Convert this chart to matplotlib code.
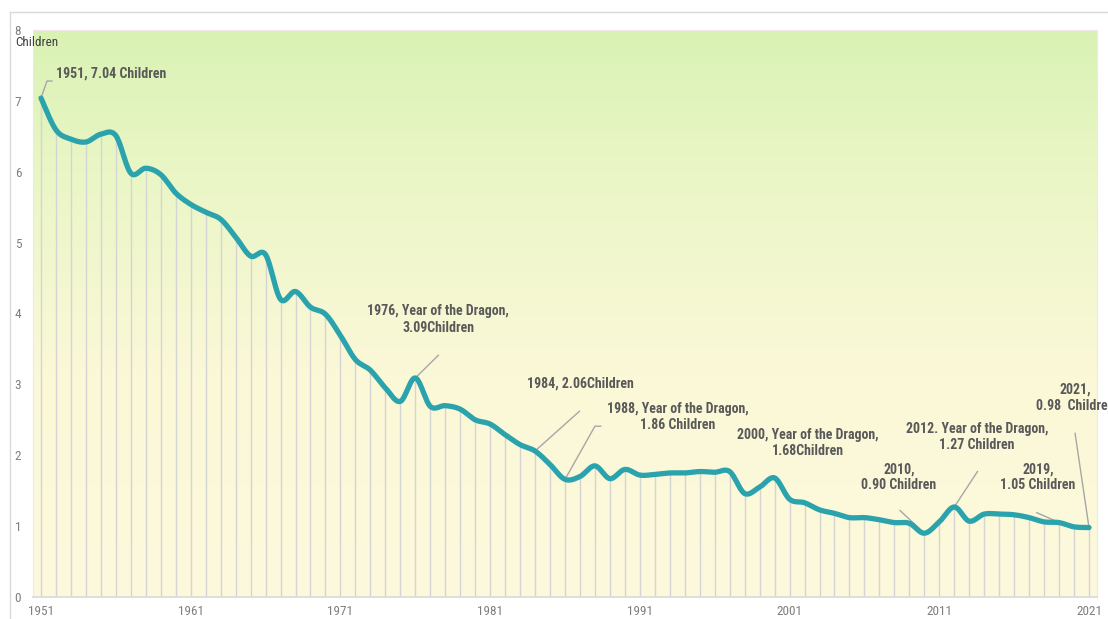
import numpy as np
import matplotlib
matplotlib.use("Agg")
import matplotlib.pyplot as plt
from matplotlib import font_manager
from matplotlib.lines import Line2D
from matplotlib.colors import LinearSegmentedColormap

# total fertility rate, one value per year
years = list(range(1951, 2022))
tfr = [7.04, 6.59, 6.46, 6.42, 6.53, 6.51, 5.98, 6.05, 5.96, 5.70,
       5.54, 5.43, 5.33, 5.08, 4.81, 4.83, 4.20, 4.31, 4.09, 3.99,
       3.69, 3.35, 3.20, 2.95, 2.76, 3.09, 2.69, 2.70, 2.65, 2.50,
       2.44, 2.29, 2.15, 2.06, 1.87, 1.66, 1.70, 1.85, 1.67, 1.80,
       1.72, 1.73, 1.75, 1.75, 1.77, 1.76, 1.77, 1.46, 1.55, 1.68,
       1.38, 1.33, 1.23, 1.18, 1.12, 1.12, 1.09, 1.05, 1.04, 0.90,
       1.06, 1.27, 1.07, 1.17, 1.17, 1.16, 1.12, 1.06, 1.05, 0.99,
       0.98]

x_ticks = [1951, 1961, 1971, 1981, 1991, 2001, 2011, 2021]
y_ticks = [0, 1, 2, 3, 4, 5, 6, 7, 8]

# callouts: point year, label, text position, leader path (data coords)
callouts = [
    (1951, "1951, 7.04 Children", (1952.0, 7.39), "left",
     [(1951.4, 7.28), (1951.73, 7.28)]),
    (1976, "1976, Year of the Dragon,\n3.09Children", (1977.52, 3.915), "center",
     [(1977.54, 3.41)]),
    (1984, "1984, 2.06Children", (1987.0, 3.005), "center",
     [(1986.96, 2.62)]),
    (1986, "1988, Year of the Dragon,\n1.86 Children", (1993.55, 2.54), "center",
     [(1988.0, 2.41), (1988.39, 2.41)]),
    (None, "2000, Year of the Dragon,\n1.68Children", (2002.24, 2.17), "center", []),
    (2010, "2010,\n0.90 Children", (2008.3, 1.69), "center",
     [(2008.38, 1.22)]),
    (2012, "2012. Year of the Dragon,\n1.27 Children", (2013.53, 2.26), "center",
     [(2013.55, 1.77)]),
    (2019, "2019,\n1.05 Children", (2017.6, 1.69), "center",
     [(2017.51, 1.19)]),
    (2021, "2021,\n0.98  Children", (2020.07, 2.81), "center",
     [(2020.07, 2.31)]),
]

# pick a narrow font close to Calibri
installed = {f.name for f in font_manager.fontManager.ttflist}
narrow = "DejaVu Sans"
for name in ["Liberation Sans Narrow", "Roboto Condensed", "Open Sans Condensed", "Lato", "Roboto"]:
    if name in installed:
        narrow = name
        break
plt.rcParams["font.family"] = [narrow, "DejaVu Sans"]

fig = plt.figure(figsize=(11.08, 6.19), dpi=100)
ax = fig.add_axes([33 / 1108, 22 / 619, 1064 / 1108, 567 / 619])

# gradient background (green at top, cream at bottom)
grad = LinearSegmentedColormap.from_list(
    "bg", [(0.0, "#fdf9dc"), (0.4, "#fbf8d8"), (0.75, "#eaf6c6"), (1.0, "#d9f2b4")])
ax.imshow(np.linspace(0, 1, 256).reshape(-1, 1), cmap=grad, origin="lower",
          extent=[0, 1, 0, 1], transform=ax.transAxes, aspect="auto", zorder=0)

# drop lines
ax.vlines(years, 0, tfr, colors="#d4d4d4", linewidth=1, zorder=1)

# smoothed line (Excel style Bezier through the points)
xs = np.array(years, dtype=float)
ys = np.array(tfr)
px = np.concatenate([[xs[0]], xs, [xs[-1]]])
py = np.concatenate([[ys[0]], ys, [ys[-1]]])
t = np.linspace(0, 1, 20)[:, None]
segs_x, segs_y = [], []
for i in range(1, len(px) - 2):
    p0x, p1x, p2x, p3x = px[i], px[i] + (px[i + 1] - px[i - 1]) / 6, px[i + 1] - (px[i + 2] - px[i]) / 6, px[i + 1]
    p0y, p1y, p2y, p3y = py[i], py[i] + (py[i + 1] - py[i - 1]) / 6, py[i + 1] - (py[i + 2] - py[i]) / 6, py[i + 1]
    bx = (1 - t) ** 3 * p0x + 3 * (1 - t) ** 2 * t * p1x + 3 * (1 - t) * t ** 2 * p2x + t ** 3 * p3x
    by = (1 - t) ** 3 * p0y + 3 * (1 - t) ** 2 * t * p1y + 3 * (1 - t) * t ** 2 * p2y + t ** 3 * p3y
    segs_x.append(bx.ravel())
    segs_y.append(by.ravel())
ax.plot(np.concatenate(segs_x), np.concatenate(segs_y), color="#2ba3ad",
        linewidth=3.8, solid_capstyle="round", solid_joinstyle="round", zorder=3)

# callouts
for yr, label, (tx, ty), ha, path in callouts:
    if yr is not None:
        val = tfr[years.index(yr)]
        pts = [(yr, val)] + path
        ax.plot([p[0] for p in pts], [p[1] for p in pts], color="#a6a6a6",
                linewidth=1, zorder=2, clip_on=False)
    ax.text(tx, ty, label, ha=ha, va="center", fontsize=10, fontweight="bold",
            color="#595959", linespacing=1.2, zorder=4, clip_on=False)

ax.set_xlim(1951 - 8 / 14.97, 2021 + 8 / 14.97)
ax.set_ylim(0, 8)
ax.set_xticks(x_ticks)
ax.set_yticks(y_ticks)
ax.tick_params(length=0, labelsize=9.5, labelcolor="#7f7f7f")
ax.tick_params(axis="x", pad=6)
ax.tick_params(axis="y", pad=8.5)
for s in ["left", "top", "right"]:
    ax.spines[s].set_color("#f3e6e6")
    ax.spines[s].set_linewidth(0.8)
ax.spines["bottom"].set_color("#d9d9d9")
ax.spines["bottom"].set_linewidth(1.2)

fig.text(15 / 1108, 1 - 42 / 619, "Children", ha="left", va="center",
         fontsize=9.5, color="#404040")

# outer chart border (left and top visible)
fig.add_artist(Line2D([10 / 1108, 10 / 1108], [0, 1 - 12 / 619], color="#d9d9d9", linewidth=1))
fig.add_artist(Line2D([10 / 1108, 1], [1 - 12 / 619, 1 - 12 / 619], color="#d9d9d9", linewidth=1))

fig.savefig("out.png", dpi=100)
